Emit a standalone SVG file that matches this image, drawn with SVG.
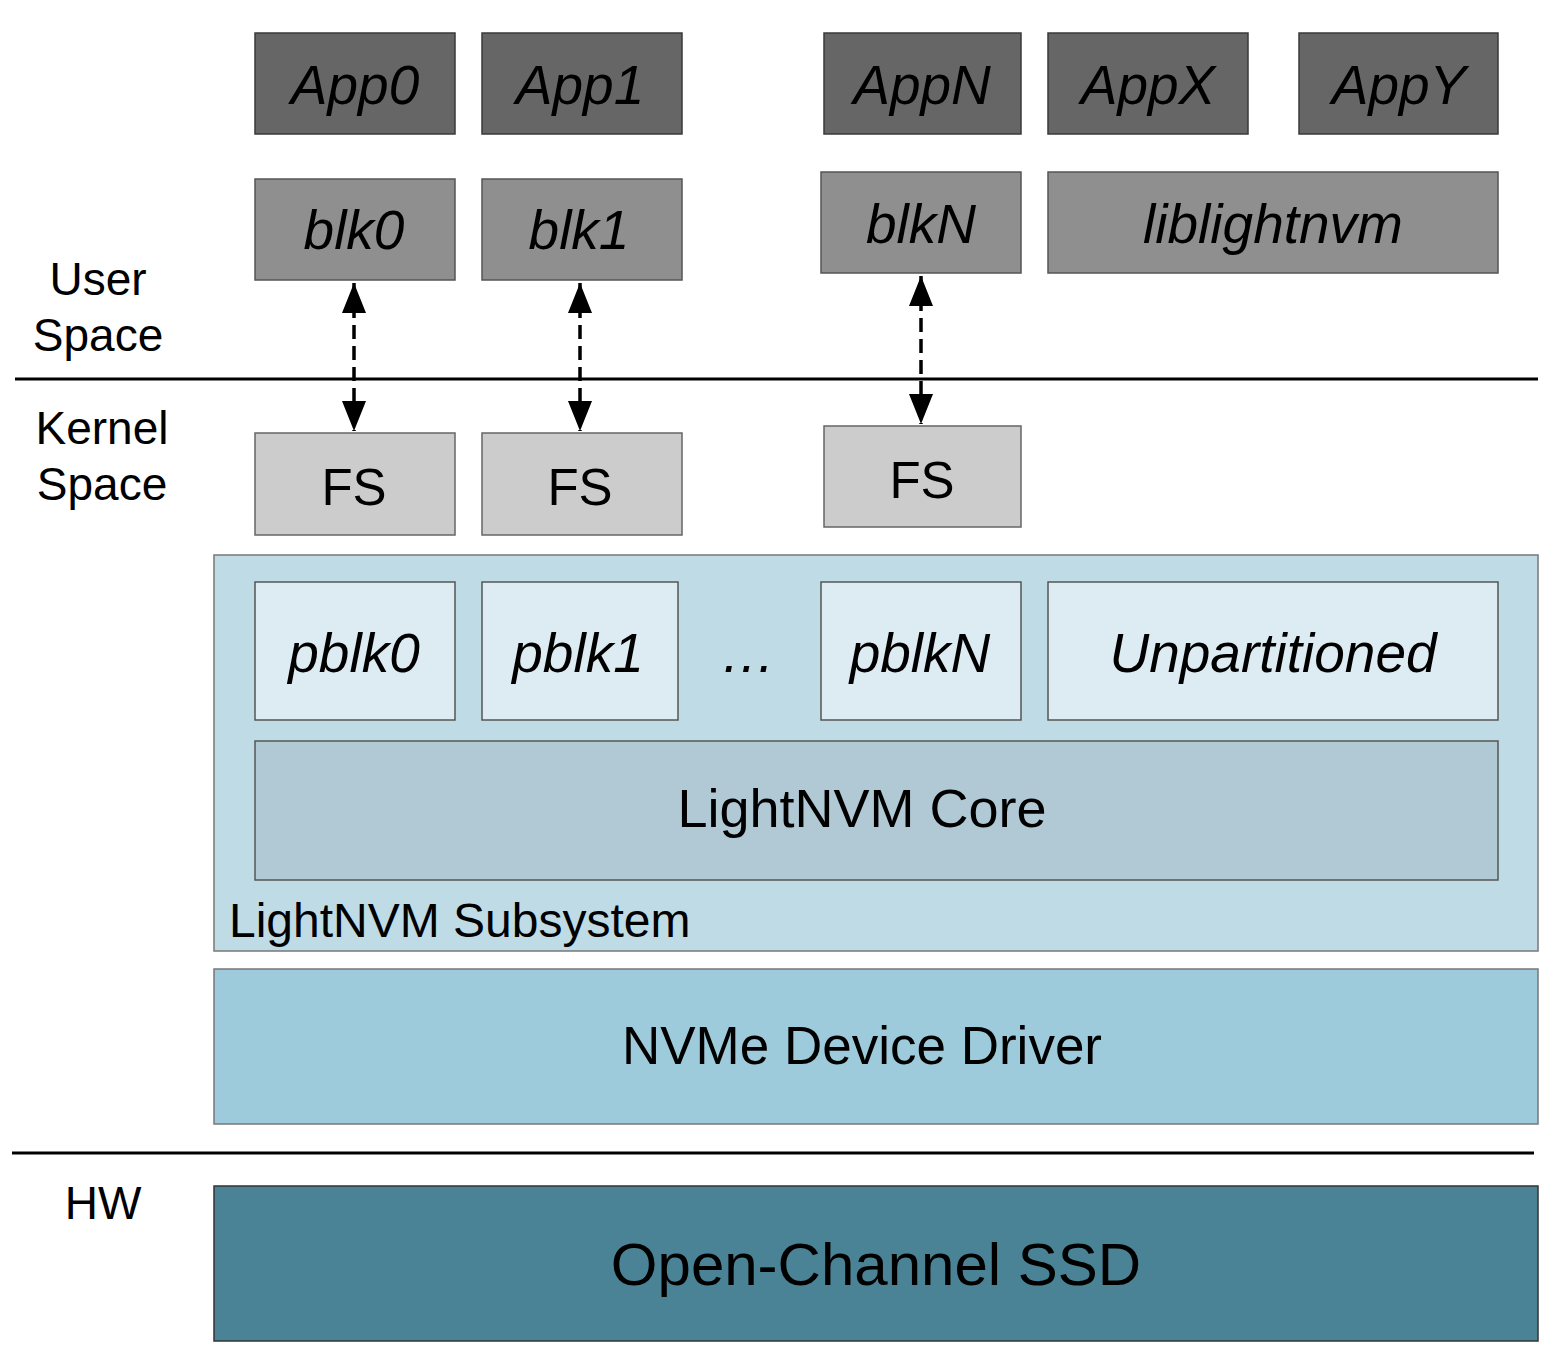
<svg xmlns="http://www.w3.org/2000/svg" width="1564" height="1366" viewBox="0 0 1564 1366">
<style>
text{font-family:"Liberation Sans",Arial,sans-serif;fill:#000;text-anchor:middle}
.it{font-style:italic;font-size:55px}
.lbl{font-size:46px}
.app rect{fill:#666666;stroke:#3a3a3a;stroke-width:1.5}
.blk rect{fill:#8f8f8f;stroke:#555;stroke-width:1.5}
.fs rect{fill:#cccccc;stroke:#666;stroke-width:1.5}
.pb rect{fill:#ddebf2;stroke:#555;stroke-width:1.5}
.sep{stroke:#000;stroke-width:3}
.conn{stroke:#000;stroke-width:3.5;stroke-dasharray:14 7;fill:none}
</style>
<defs>
<marker id="ah" viewBox="0 0 30 24" refX="30" refY="12" markerWidth="30" markerHeight="24" markerUnits="userSpaceOnUse" orient="auto-start-reverse">
<path d="M0,0 L30,12 L0,24 Z" fill="#000"/>
</marker>
</defs>
<rect width="1564" height="1366" fill="#fff"/>

<g id="labels">
<text class="lbl" x="98" y="295">User</text>
<text class="lbl" x="98" y="351">Space</text>
<text class="lbl" x="102" y="444">Kernel</text>
<text class="lbl" x="102" y="500">Space</text>
<text class="lbl" x="103" y="1219">HW</text>
</g>

<g id="separators">
<line class="sep" x1="15" y1="379" x2="1538" y2="379"/>
<line class="sep" x1="12" y1="1153" x2="1534" y2="1153"/>
</g>

<g id="app0" class="app"><rect x="255" y="33" width="200" height="101"/><text class="it" x="355" y="104">App0</text></g>
<g id="app1" class="app"><rect x="482" y="33" width="200" height="101"/><text class="it" x="580" y="104">App1</text></g>
<g id="appN" class="app"><rect x="824" y="33" width="197" height="101"/><text class="it" x="922" y="104">AppN</text></g>
<g id="appX" class="app"><rect x="1048" y="33" width="200" height="101"/><text class="it" x="1148" y="104">AppX</text></g>
<g id="appY" class="app"><rect x="1299" y="33" width="199" height="101"/><text class="it" x="1399" y="104">AppY</text></g>

<g id="blk0" class="blk"><rect x="255" y="179" width="200" height="101"/><text class="it" x="354" y="249">blk0</text></g>
<g id="blk1" class="blk"><rect x="482" y="179" width="200" height="101"/><text class="it" x="579" y="249">blk1</text></g>
<g id="blkN" class="blk"><rect x="821" y="172" width="200" height="101"/><text class="it" x="921" y="243">blkN</text></g>
<g id="liblightnvm" class="blk"><rect x="1048" y="172" width="450" height="101"/><text class="it" x="1273" y="243">liblightnvm</text></g>

<g id="fs0" class="fs"><rect x="255" y="433" width="200" height="102"/><text x="354" y="505" font-size="51">FS</text></g>
<g id="fs1" class="fs"><rect x="482" y="433" width="200" height="102"/><text x="580" y="505" font-size="51">FS</text></g>
<g id="fsN" class="fs"><rect x="824" y="426" width="197" height="101"/><text x="922" y="498" font-size="51">FS</text></g>

<g id="subsystem">
<rect x="214" y="555" width="1324" height="396" fill="#bfdce6" stroke="#777" stroke-width="1.5"/>
<text x="229" y="937" font-size="48" style="text-anchor:start">LightNVM Subsystem</text>
</g>
<g id="pblk0" class="pb"><rect x="255" y="582" width="200" height="138"/><text class="it" x="354" y="672">pblk0</text></g>
<g id="pblk1" class="pb"><rect x="482" y="582" width="196" height="138"/><text class="it" x="578" y="672">pblk1</text></g>
<g id="dots"><text class="it" x="748" y="672">…</text></g>
<g id="pblkN" class="pb"><rect x="821" y="582" width="200" height="138"/><text class="it" x="920" y="672">pblkN</text></g>
<g id="unpartitioned" class="pb"><rect x="1048" y="582" width="450" height="138"/><text class="it" x="1273" y="672">Unpartitioned</text></g>
<g id="core"><rect x="255" y="741" width="1243" height="139" fill="#b0c9d5" stroke="#555" stroke-width="1.5"/><text x="862" y="827" font-size="54">LightNVM Core</text></g>

<g id="nvme"><rect x="214" y="969" width="1324" height="155" fill="#9ecbdb" stroke="#777" stroke-width="1.5"/><text x="862" y="1064" font-size="53">NVMe Device Driver</text></g>

<g id="ssd"><rect x="214" y="1186" width="1324" height="155" fill="#4a8396" stroke="#333" stroke-width="1.5"/><text x="876" y="1285" font-size="60">Open-Channel SSD</text></g>

<g id="connectors">
<line class="conn" x1="354" y1="283" x2="354" y2="431" marker-start="url(#ah)" marker-end="url(#ah)"/>
<line class="conn" x1="580" y1="283" x2="580" y2="431" marker-start="url(#ah)" marker-end="url(#ah)"/>
<line class="conn" x1="921" y1="276" x2="921" y2="424" marker-start="url(#ah)" marker-end="url(#ah)"/>
</g>
</svg>
